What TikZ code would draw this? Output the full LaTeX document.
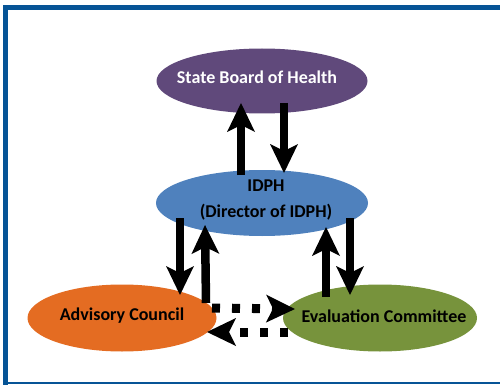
\documentclass[tikz,border=0pt]{standalone}
\usepackage{fontspec}
\setmainfont{Carlito}
\usetikzlibrary{shapes.geometric,arrows.meta,calc}

\definecolor{framebl}{RGB}{6,84,150}
\definecolor{boardpurple}{RGB}{96,73,123}
\definecolor{idphblue}{RGB}{79,129,189}
\definecolor{advorange}{RGB}{228,108,34}
\definecolor{evalgreen}{RGB}{119,147,60}

\tikzset{
  body/.style={ellipse, inner sep=0pt, minimum height=65pt},
  label/.style={font=\bfseries\fontsize{18}{26}\selectfont, align=center},
  flow/.style={line width=8.5pt, line cap=butt,
    -{Stealth[length=29pt, width=28pt, inset=7pt, line width=0pt]}},
  advice/.style={flow, line width=9pt, dash pattern=on 8pt off 12pt},
}

\begin{document}
\begin{tikzpicture}[x=1pt, y=-1pt]
  \useasboundingbox (0,0) rectangle (500,385);

  % page frame
  \draw[framebl, line width=5pt] (5.5,385) -- (5.5,7.5) -- (500,7.5);
  \draw[framebl, line width=2.5pt] (3,383) -- (500,383);

  % bodies
  \node[body, fill=boardpurple, minimum width=211pt] (sbh) at (262,81) {};
  \node[label, text=white] (sbhtxt) at (257,77) {State Board of Health};
  \node[body, fill=idphblue, minimum width=212pt, minimum height=66pt] (idph) at (262,203) {};
  \node[label] (idphtxt) at (266,200) {IDPH\\(Director of IDPH)};
  \node[body, fill=advorange, minimum width=189pt, minimum height=67pt] (adv) at (122,318) {};
  \node[label] (advtxt) at (122,316) {Advisory Council};
  \node[body, fill=evalgreen, minimum width=194pt, minimum height=67pt] (eval) at (380,318) {};
  \node[label] (evaltxt) at (384,316) {Evaluation Committee};

  % reporting lines
  \draw[flow] ($(idph.center)+(-21,-28)$) -- ($(sbh.center)+(-21,22)$);
  \draw[flow] ($(sbh.center)+(22,22)$) -- ($(idph.center)+(22,-30)$);
  \draw[flow] ($(idph.center)+(-82,15)$) -- ($(adv.center)+(58,-23)$);
  \draw[flow] ($(adv.center)+(84,-15)$) -- ($(idph.center)+(-57,22)$);
  \draw[flow] ($(eval.center)+(-54,-21)$) -- ($(idph.center)+(64,24)$);
  \draw[flow] ($(idph.center)+(88,15)$) -- ($(eval.center)+(-30,-23)$);

  % advisory exchange
  \draw[advice] ($(adv.center)+(90,-10)$) -- ($(eval.center)+(-85,-9)$);
  \draw[advice] ($(eval.center)+(-92,14)$) -- ($(adv.center)+(85,14)$);
\end{tikzpicture}
\end{document}
